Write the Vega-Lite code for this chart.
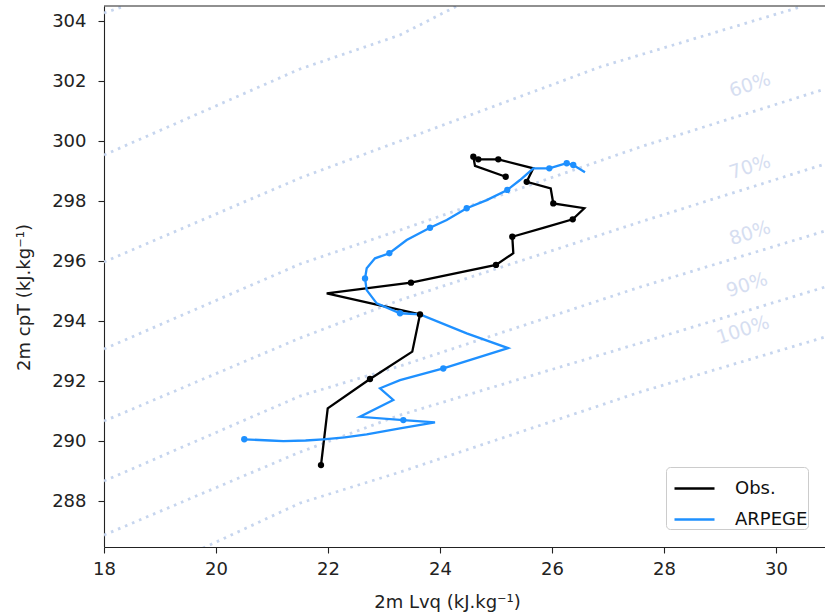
{
  "$schema": "https://vega.github.io/schema/vega-lite/v6.json",
  "width": 721,
  "height": 541,
  "autosize": {"type": "none"},
  "padding": {"left": 104, "top": 6, "right": 0, "bottom": 69},
  "background": "white",
  "config": {
    "font": "DejaVu Sans",
    "view": {"stroke": null},
    "axis": {
      "grid": false,
      "domainColor": "#222222",
      "tickColor": "#222222",
      "labelColor": "#222222",
      "titleColor": "#222222",
      "labelFont": "DejaVu Sans",
      "titleFont": "DejaVu Sans",
      "labelFontSize": 18,
      "titleFontSize": 18,
      "titleFontWeight": "normal",
      "tickSize": 6,
      "domainWidth": 1.1,
      "tickWidth": 1.1
    }
  },
  "datasets": {
    "frame": [
      {"lvq": 18, "lvq2": 30.875, "cpt": 304.5}
    ],
    "rh": [
      {"rh": "30", "lvq": 18, "cpt": 304.267},
      {"rh": "30", "lvq": 18.375, "cpt": 304.5},
      {"rh": "40", "lvq": 18, "cpt": 299.533},
      {"rh": "40", "lvq": 21.5, "cpt": 302.4},
      {"rh": "40", "lvq": 23.286, "cpt": 303.533},
      {"rh": "40", "lvq": 24.304, "cpt": 304.5},
      {"rh": "50", "lvq": 18, "cpt": 295.967},
      {"rh": "50", "lvq": 21.5, "cpt": 298.767},
      {"rh": "50", "lvq": 23.286, "cpt": 300.0},
      {"rh": "50", "lvq": 26.857, "cpt": 302.467},
      {"rh": "50", "lvq": 27.571, "cpt": 302.867},
      {"rh": "50", "lvq": 30.429, "cpt": 304.467},
      {"rh": "60", "lvq": 18, "cpt": 293.067},
      {"rh": "60", "lvq": 21.5, "cpt": 295.9},
      {"rh": "60", "lvq": 23.286, "cpt": 297.033},
      {"rh": "60", "lvq": 27.571, "cpt": 299.8},
      {"rh": "60", "lvq": 30.875, "cpt": 301.733},
      {"rh": "70", "lvq": 18, "cpt": 290.667},
      {"rh": "70", "lvq": 21.5, "cpt": 293.433},
      {"rh": "70", "lvq": 23.286, "cpt": 294.7},
      {"rh": "70", "lvq": 27.571, "cpt": 297.3},
      {"rh": "70", "lvq": 30.875, "cpt": 299.233},
      {"rh": "80", "lvq": 18, "cpt": 288.667},
      {"rh": "80", "lvq": 21.5, "cpt": 291.5},
      {"rh": "80", "lvq": 23.286, "cpt": 292.5},
      {"rh": "80", "lvq": 27.571, "cpt": 295.133},
      {"rh": "80", "lvq": 30.875, "cpt": 297.0},
      {"rh": "90", "lvq": 18, "cpt": 286.867},
      {"rh": "90", "lvq": 21.5, "cpt": 289.633},
      {"rh": "90", "lvq": 23.286, "cpt": 290.867},
      {"rh": "90", "lvq": 27.571, "cpt": 293.267},
      {"rh": "90", "lvq": 30.875, "cpt": 295.133},
      {"rh": "100", "lvq": 19.768, "cpt": 286.433},
      {"rh": "100", "lvq": 21.5, "cpt": 287.933},
      {"rh": "100", "lvq": 23.286, "cpt": 288.967},
      {"rh": "100", "lvq": 27.571, "cpt": 291.633},
      {"rh": "100", "lvq": 30.875, "cpt": 293.467}
    ],
    "labels": [
      {"t": "60%", "lvq": 29.536, "cpt": 301.87},
      {"t": "70%", "lvq": 29.536, "cpt": 299.13},
      {"t": "80%", "lvq": 29.536, "cpt": 296.93},
      {"t": "90%", "lvq": 29.482, "cpt": 295.2},
      {"t": "100%", "lvq": 29.411, "cpt": 293.7}
    ],
    "series": [
      {"s": "Obs.", "i": 1, "lvq": 21.875, "cpt": 289.2, "m": 1},
      {"s": "Obs.", "i": 2, "lvq": 21.995, "cpt": 291.09, "m": 0},
      {"s": "Obs.", "i": 3, "lvq": 22.75, "cpt": 292.07, "m": 1},
      {"s": "Obs.", "i": 4, "lvq": 23.505, "cpt": 292.98, "m": 0},
      {"s": "Obs.", "i": 5, "lvq": 23.643, "cpt": 294.22, "m": 1},
      {"s": "Obs.", "i": 6, "lvq": 21.977, "cpt": 294.92, "m": 0},
      {"s": "Obs.", "i": 7, "lvq": 23.482, "cpt": 295.28, "m": 1},
      {"s": "Obs.", "i": 8, "lvq": 25.0, "cpt": 295.87, "m": 1},
      {"s": "Obs.", "i": 9, "lvq": 25.309, "cpt": 296.26, "m": 0},
      {"s": "Obs.", "i": 10, "lvq": 25.291, "cpt": 296.81, "m": 1},
      {"s": "Obs.", "i": 11, "lvq": 25.875, "cpt": 297.12, "m": 0},
      {"s": "Obs.", "i": 12, "lvq": 26.37, "cpt": 297.39, "m": 1},
      {"s": "Obs.", "i": 13, "lvq": 26.577, "cpt": 297.76, "m": 0},
      {"s": "Obs.", "i": 14, "lvq": 26.023, "cpt": 297.92, "m": 1},
      {"s": "Obs.", "i": 15, "lvq": 25.977, "cpt": 298.42, "m": 0},
      {"s": "Obs.", "i": 16, "lvq": 25.548, "cpt": 298.64, "m": 1},
      {"s": "Obs.", "i": 17, "lvq": 25.666, "cpt": 299.09, "m": 0},
      {"s": "Obs.", "i": 18, "lvq": 25.041, "cpt": 299.39, "m": 1},
      {"s": "Obs.", "i": 19, "lvq": 24.684, "cpt": 299.39, "m": 1},
      {"s": "Obs.", "i": 20, "lvq": 24.595, "cpt": 299.48, "m": 1},
      {"s": "Obs.", "i": 21, "lvq": 24.625, "cpt": 299.17, "m": 0},
      {"s": "Obs.", "i": 22, "lvq": 25.173, "cpt": 298.81, "m": 1},
      {"s": "ARPEGE", "i": 1, "lvq": 20.505, "cpt": 290.06, "m": 1},
      {"s": "ARPEGE", "i": 2, "lvq": 20.964, "cpt": 290.02, "m": 0},
      {"s": "ARPEGE", "i": 3, "lvq": 21.202, "cpt": 290.0, "m": 0},
      {"s": "ARPEGE", "i": 4, "lvq": 21.6, "cpt": 290.02, "m": 0},
      {"s": "ARPEGE", "i": 5, "lvq": 21.916, "cpt": 290.06, "m": 0},
      {"s": "ARPEGE", "i": 6, "lvq": 22.3, "cpt": 290.12, "m": 0},
      {"s": "ARPEGE", "i": 7, "lvq": 22.691, "cpt": 290.22, "m": 0},
      {"s": "ARPEGE", "i": 8, "lvq": 23.286, "cpt": 290.42, "m": 0},
      {"s": "ARPEGE", "i": 9, "lvq": 23.911, "cpt": 290.62, "m": 0},
      {"s": "ARPEGE", "i": 10, "lvq": 23.345, "cpt": 290.7, "m": 1},
      {"s": "ARPEGE", "i": 11, "lvq": 22.571, "cpt": 290.81, "m": 0},
      {"s": "ARPEGE", "i": 12, "lvq": 23.166, "cpt": 291.37, "m": 0},
      {"s": "ARPEGE", "i": 13, "lvq": 22.929, "cpt": 291.76, "m": 0},
      {"s": "ARPEGE", "i": 14, "lvq": 23.286, "cpt": 292.03, "m": 0},
      {"s": "ARPEGE", "i": 15, "lvq": 24.059, "cpt": 292.42, "m": 1},
      {"s": "ARPEGE", "i": 16, "lvq": 25.214, "cpt": 293.1, "m": 0},
      {"s": "ARPEGE", "i": 17, "lvq": 24.477, "cpt": 293.59, "m": 0},
      {"s": "ARPEGE", "i": 18, "lvq": 23.643, "cpt": 294.22, "m": 0},
      {"s": "ARPEGE", "i": 19, "lvq": 23.286, "cpt": 294.26, "m": 1},
      {"s": "ARPEGE", "i": 20, "lvq": 22.87, "cpt": 294.59, "m": 0},
      {"s": "ARPEGE", "i": 21, "lvq": 22.691, "cpt": 295.03, "m": 0},
      {"s": "ARPEGE", "i": 22, "lvq": 22.661, "cpt": 295.42, "m": 1},
      {"s": "ARPEGE", "i": 23, "lvq": 22.691, "cpt": 295.76, "m": 0},
      {"s": "ARPEGE", "i": 24, "lvq": 22.839, "cpt": 296.09, "m": 0},
      {"s": "ARPEGE", "i": 25, "lvq": 23.095, "cpt": 296.26, "m": 1},
      {"s": "ARPEGE", "i": 26, "lvq": 23.405, "cpt": 296.7, "m": 0},
      {"s": "ARPEGE", "i": 27, "lvq": 23.821, "cpt": 297.11, "m": 1},
      {"s": "ARPEGE", "i": 28, "lvq": 24.12, "cpt": 297.37, "m": 0},
      {"s": "ARPEGE", "i": 29, "lvq": 24.477, "cpt": 297.76, "m": 1},
      {"s": "ARPEGE", "i": 30, "lvq": 24.834, "cpt": 298.03, "m": 0},
      {"s": "ARPEGE", "i": 31, "lvq": 25.202, "cpt": 298.37, "m": 1},
      {"s": "ARPEGE", "i": 32, "lvq": 25.429, "cpt": 298.7, "m": 0},
      {"s": "ARPEGE", "i": 33, "lvq": 25.666, "cpt": 299.09, "m": 0},
      {"s": "ARPEGE", "i": 34, "lvq": 25.952, "cpt": 299.09, "m": 1},
      {"s": "ARPEGE", "i": 35, "lvq": 26.143, "cpt": 299.2, "m": 0},
      {"s": "ARPEGE", "i": 36, "lvq": 26.263, "cpt": 299.26, "m": 1},
      {"s": "ARPEGE", "i": 37, "lvq": 26.38, "cpt": 299.2, "m": 1},
      {"s": "ARPEGE", "i": 38, "lvq": 26.589, "cpt": 298.96, "m": 0}
    ]
  },
  "encoding": {
    "x": {
      "field": "lvq",
      "type": "quantitative",
      "scale": {"domain": [18, 30.875], "nice": false, "zero": false},
      "axis": {
        "values": [18, 20, 22, 24, 26, 28, 30],
        "title": "2m Lvq (kJ.kg⁻¹)",
        "labelPadding": 7,
        "titlePadding": 15,
        "titleX": 343,
        "labelFlush": false
      }
    },
    "y": {
      "field": "cpt",
      "type": "quantitative",
      "scale": {"domain": [286.47, 304.5], "nice": false, "zero": false},
      "axis": {
        "values": [288, 290, 292, 294, 296, 298, 300, 302, 304],
        "title": "2m  cpT (kJ.kg⁻¹)",
        "labelPadding": 12,
        "titlePadding": 18,
        "titleY": 291,
        "labelFlush": false
      }
    }
  },
  "layer": [
    {
      "data": {"name": "rh"},
      "mark": {"type": "line", "clip": true, "strokeDash": [2.6, 5], "strokeWidth": 2.8, "color": "#c6d5ee"},
      "encoding": {"detail": {"field": "rh"}}
    },
    {
      "data": {"name": "labels"},
      "mark": {"type": "text", "angle": -18, "fontSize": 19, "color": "#d6def1", "font": "DejaVu Sans"},
      "encoding": {"text": {"field": "t"}}
    },
    {
      "data": {"name": "frame"},
      "mark": {"type": "rule", "color": "#222222", "strokeWidth": 1.1},
      "encoding": {"x2": {"field": "lvq2"}}
    },
    {
      "data": {"name": "series"},
      "mark": {"type": "line", "clip": true, "strokeWidth": 2.3},
      "encoding": {
        "color": {
          "field": "s",
          "type": "nominal",
          "scale": {"domain": ["Obs.", "ARPEGE"], "range": ["#000000", "#1e90ff"]},
          "legend": {
            "title": null,
            "orient": "none",
            "legendX": 562,
            "legendY": 461,
            "symbolType": "stroke",
            "symbolStrokeWidth": 2.3,
            "symbolSize": 1600,
            "symbolOffset": 7,
            "labelFontSize": 18,
            "labelFont": "DejaVu Sans",
            "labelColor": "#111111",
            "labelExpr": "datum.label + '\u00a0'",
            "padding": 0,
            "strokeColor": "#cccccc",
            "fillColor": "white",
            "cornerRadius": 4,
            "rowPadding": -10,
            "labelOffset": 19
          }
        },
        "order": {"field": "i", "type": "quantitative"}
      }
    },
    {
      "data": {"name": "series"},
      "transform": [{"filter": "datum.m == 1"}],
      "mark": {"type": "point", "filled": true, "size": 40, "opacity": 1, "clip": true},
      "encoding": {
        "fill": {
          "field": "s",
          "type": "nominal",
          "scale": {"domain": ["Obs.", "ARPEGE"], "range": ["#000000", "#1e90ff"]},
          "legend": null
        }
      }
    }
  ]
}
